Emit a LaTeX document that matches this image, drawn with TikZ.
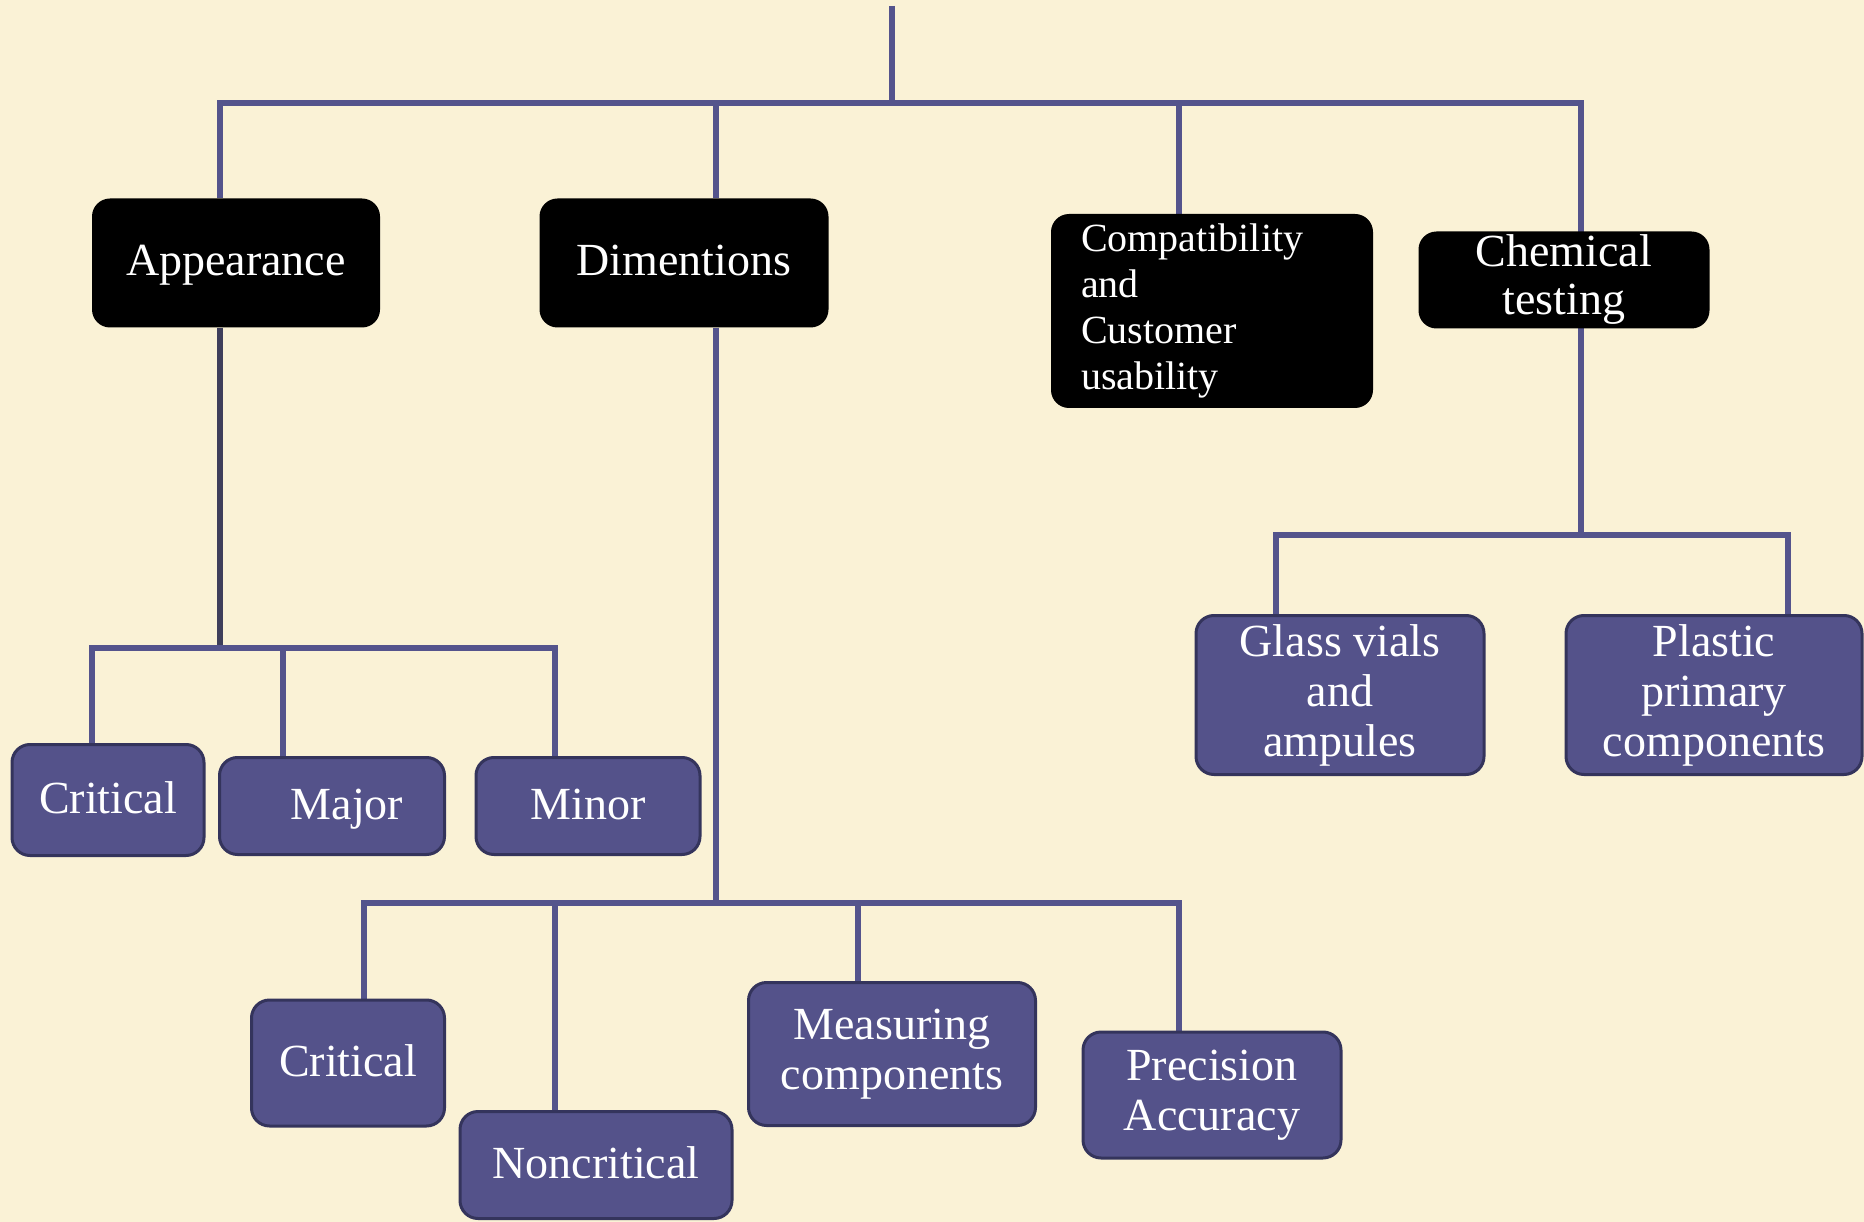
\documentclass[tikz,border=0pt]{standalone}
\usepackage{fontspec}
\setmainfont{Liberation Serif}
\usetikzlibrary{backgrounds}
\definecolor{bg}{RGB}{250,242,214}
\definecolor{ln}{RGB}{84,84,140}
\definecolor{lnd}{RGB}{62,62,90}
\definecolor{bx}{RGB}{84,82,138}
\definecolor{bxd}{RGB}{52,52,92}
\begin{document}
\begin{tikzpicture}[x=1pt,y=-1pt,
  blackbox/.style={fill=black, rounded corners=18pt, text=white, font=\fontsize{46}{48}\selectfont, align=center, inner sep=0pt},
  bluebox/.style={fill=bx, draw=bxd, line width=3pt, rounded corners=18pt, text=white, font=\fontsize{46}{50}\selectfont, align=center, inner sep=0pt},
  oneline/.style={text height=34pt, text depth=8pt},
  conn/.style={draw=ln, line width=6pt, line join=miter}]
\useasboundingbox (0,0) rectangle (1864,1222);
% top-level boxes
\node[blackbox, oneline, minimum width=288pt, minimum height=129pt] (app) at (236,263) {Appearance};
\node[blackbox, oneline, minimum width=289pt, minimum height=129pt] (dim) at (684,263) {Dimentions};
\node[blackbox, minimum width=322pt, minimum height=194pt, text width=262pt, align=left, font=\fontsize{40}{46}\selectfont] (comp) at (1212,311) {Compatibility\\and\\Customer\\usability};
\node[blackbox, minimum width=291pt, minimum height=97pt] (chem) at (1564,280) {Chemical\\testing};
% appearance children
\node[bluebox, oneline, minimum width=192pt, minimum height=111pt] (crit1) at (108,800) {Critical};
\node[bluebox, oneline, minimum width=225pt, minimum height=97pt] (major) at (332,806) {\hspace*{30pt}Major};
\node[bluebox, oneline, minimum width=224pt, minimum height=97pt] (minor) at (588,806) {Minor};
% dimension children
\node[bluebox, oneline, minimum width=193pt, minimum height=126pt] (crit2) at (348,1063) {Critical};
\node[bluebox, oneline, minimum width=272pt, minimum height=107pt] (noncrit) at (596,1165) {Noncritical};
\node[bluebox, minimum width=287pt, minimum height=143pt] (meas) at (892,1054) {Measuring\\components};
\node[bluebox, minimum width=258pt, minimum height=126pt] (prec) at (1212,1095) {Precision\\Accuracy};
% chemical children
\node[bluebox, minimum width=288pt, minimum height=159pt] (glass) at (1340,695) {Glass vials\\and\\ampules};
\node[bluebox, minimum width=296pt, minimum height=159pt] (plastic) at (1714,695) {Plastic\\primary\\components};
% coordinates
\coordinate (top) at (892,6);
\coordinate (bus) at (892,103);
\coordinate (busL) at (220,103);
\coordinate (busR) at (1581,103);
\coordinate (d1) at (716,103);
\coordinate (d2) at (1179,103);
\coordinate (abus) at (220,648);
\coordinate (aL) at (92,648);
\coordinate (aM) at (283,648);
\coordinate (aR) at (555,648);
\coordinate (dbus) at (716,903);
\coordinate (dA) at (364,903);
\coordinate (dB) at (555,903);
\coordinate (dC) at (858,903);
\coordinate (dD) at (1179,903);
\coordinate (cbus) at (1581,535);
\coordinate (cL) at (1276,535);
\coordinate (cR) at (1788,535);
\begin{scope}[on background layer]
\fill[bg] (0,0) rectangle (1864,1222);
\draw[conn] (top) -- (bus);
\draw[conn] (busL |- app.north) -- (busL) -- (busR) -- (cbus);
\draw[conn] (d1) -- (d1 |- dim.north);
\draw[conn] (d2) -- (d2 |- comp.north);
\draw[conn, draw=lnd] (busL |- app.south) -- (abus);
\draw[conn] (aL |- crit1.north) -- (aL) -- (aR) -- (aR |- minor.north);
\draw[conn] (aM) -- (aM |- major.north);
\draw[conn] (d1 |- dim.south) -- (dbus);
\draw[conn] (dA |- crit2.north) -- (dA) -- (dD) -- (dD |- prec.north);
\draw[conn] (dB) -- (dB |- noncrit.north);
\draw[conn] (dC) -- (dC |- meas.north);
\draw[conn] (cL |- glass.north) -- (cL) -- (cR) -- (cR |- plastic.north);
\end{scope}
\end{tikzpicture}
\end{document}
